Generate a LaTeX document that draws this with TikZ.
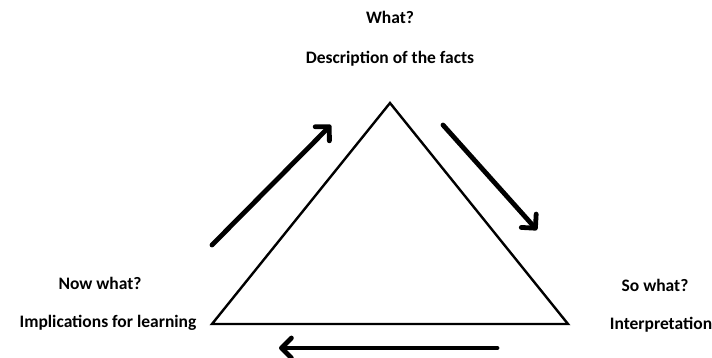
\documentclass[tikz,border=0pt]{standalone}
\usepackage{fontspec}
\setmainfont{Carlito}
\usetikzlibrary{arrows.meta}
\begin{document}
\begin{tikzpicture}[x=1pt,y=-1pt,
        lbl/.style={font=\bfseries\fontsize{17.5}{20}\selectfont,inner sep=0pt},
        side/.style={line width=2.4pt,line join=miter},
        flow/.style={line width=4.8pt,line cap=round,-{Straight Barb[length=10pt,width=20pt,round,line width=4.8pt]}}]
            \useasboundingbox (0,0) rectangle (712,358);

            \coordinate (top) at (390,103);
            \coordinate (left) at (212,324);
            \coordinate (right) at (568,324);

            \draw[side] (top) -- (left) -- (right) -- cycle;

            \node[lbl] (what) at (390,17) {What?};
            \node[lbl] (facts) at (390,59) {Description of the facts};

            \node[lbl] (nowWhat) at (100,283) {Now what?};
            \node[lbl] (learning) at (108,323) {Implications for learning};

            \node[lbl] (soWhat) at (655,285) {So what?};
            \node[lbl] (interp) at (661,325) {Interpretation};

            \coordinate (a1) at (212,245);
            \coordinate (a2) at (331,125);
            \coordinate (b1) at (443,125);
            \coordinate (b2) at (537,230);
            \coordinate (c1) at (497,348);
            \coordinate (c2) at (279,348);

            \draw[flow] (a1) -- (a2);
            \draw[flow] (b1) -- (b2);
            \draw[flow] (c1) -- (c2);
        \end{tikzpicture}
\end{document}
